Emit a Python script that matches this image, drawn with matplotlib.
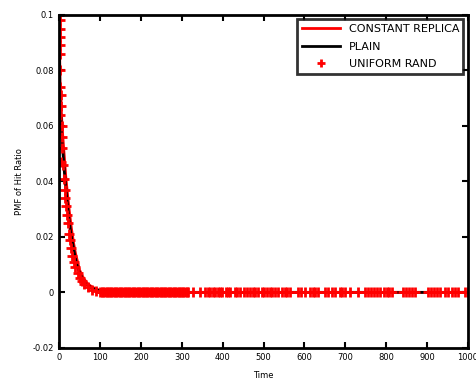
import numpy as np
import matplotlib
matplotlib.use("Agg")
import matplotlib.pyplot as plt

# curve data
plain_t = [0, 1, 2, 4, 6, 8, 10, 13, 16, 20, 25, 30, 35, 40, 45, 50, 60, 70, 80, 90, 100, 120, 150, 200, 300, 400, 500, 600, 700, 800, 900, 1000]
plain_y = [0.1, 0.085, 0.07, 0.064, 0.058, 0.053, 0.049, 0.043, 0.038, 0.032, 0.025, 0.02, 0.016, 0.012, 0.009, 0.007, 0.004, 0.0025, 0.0015, 0.001, 0.0006, 0.0002, 0.0001, 0, 0, 0, 0, 0, 0, 0, 0, 0]

const_t = [0, 1, 2, 4, 6, 8, 10, 13, 16, 20, 25, 30, 35, 40, 45, 50, 60, 70, 80, 90, 100, 120, 150, 200, 300, 400, 500, 600, 700, 800, 900, 1000]
const_y = [0.1, 0.09, 0.076, 0.069, 0.063, 0.058, 0.054, 0.048, 0.042, 0.036, 0.029, 0.023, 0.018, 0.014, 0.011, 0.008, 0.005, 0.003, 0.002, 0.0012, 0.0007, 0.0003, 0.0001, 0, 0, 0, 0, 0, 0, 0, 0, 0]

# uniform markers on the decay part
unif_t = [0.5, 1, 1, 1.5, 1, 2, 2, 3, 4, 5, 3, 6, 7, 8, 5, 10, 12, 14, 15, 17, 19, 21, 23, 27, 30, 32, 36, 40, 45, 50, 55, 60, 70, 80, 90]
unif_y = [0.1, 0.098, 0.095, 0.092, 0.089, 0.086, 0.08, 0.074, 0.071, 0.067, 0.064, 0.06, 0.056, 0.052, 0.047, 0.046, 0.041, 0.037, 0.034, 0.031, 0.028, 0.025, 0.021, 0.019, 0.016, 0.013, 0.011, 0.009, 0.007, 0.005, 0.004, 0.003, 0.002, 0.001, 0.0005]

# uniform markers sitting on zero
unif_zero_t = [100, 104, 108, 112, 116, 120, 124, 128, 132, 136, 140, 144, 148, 152, 156, 160, 164, 168, 172, 176, 180, 184, 188,
               192, 196, 200, 204, 208, 212, 216, 220, 224, 228, 232, 236, 240, 244, 248, 252, 256, 260, 264, 268, 272, 276,
               280, 284, 288, 292, 296, 300, 304, 308, 312, 315,
               328, 345, 357, 364, 370, 376, 381, 389, 394, 399, 408, 413, 418, 430, 436, 443, 452, 459, 467, 474, 480, 487,
               496, 502, 508, 515, 521, 528, 535, 545, 552, 558, 565, 584, 592, 601, 614, 620, 627, 633, 650, 658, 667, 675,
               687, 693, 699, 711, 731, 748, 755, 762, 770, 778, 786, 794, 802, 808, 814, 841, 848, 855, 862, 870,
               902, 910, 917, 925, 932, 944, 952, 960, 968, 976, 993, 1000]

fig = plt.figure(figsize=(4.77, 3.81), dpi=100)
ax = fig.add_axes([0.124, 0.087, 0.857, 0.874])

ax.plot(const_t, const_y, color="red", lw=2, label="CONSTANT REPLICA")
ax.plot(plain_t, plain_y, color="black", lw=2, label="PLAIN")
ax.plot(unif_t + unif_zero_t, unif_y + [0] * len(unif_zero_t), "+", color="red",
        ms=7, mew=2, label="UNIFORM RAND")

ax.set_xlim(0, 1000)
ax.set_ylim(-0.02, 0.1)
ax.set_xticks([0, 100, 200, 300, 400, 500, 600, 700, 800, 900, 1000])
ax.set_yticks([-0.02, 0, 0.02, 0.04, 0.06, 0.08, 0.1])
ax.set_yticklabels(["-0.02", "0", "0.02", "0.04", "0.06", "0.08", "0.1"])
ax.tick_params(direction="in", top=True, right=True, labelsize=6, width=1.5, length=4, pad=4)
for s in ax.spines.values():
    s.set_linewidth(2)

ax.set_xlabel("Time", fontsize=6, labelpad=6)
ax.set_ylabel("PMF of Hit Ratio", fontsize=6, labelpad=6)

leg = ax.legend(loc="upper right", fontsize=8, fancybox=False, edgecolor="black",
                handlelength=3.4, borderaxespad=0.4, labelspacing=0.7, markerscale=0.8)
leg.get_frame().set_linewidth(2)

fig.savefig("out.png", dpi=100)
